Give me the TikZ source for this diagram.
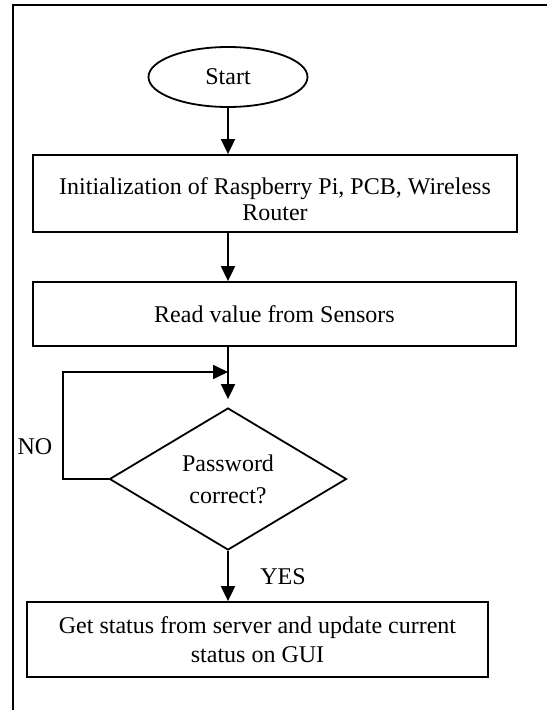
\documentclass[tikz,border=0pt]{standalone}
\usepackage{fontspec}
\setmainfont{Liberation Serif}
\usetikzlibrary{shapes.geometric,arrows.meta}

\begin{document}
\begin{tikzpicture}[x=0.5pt, y=-0.5pt, line width=0.9pt,
		font=\fontsize{12}{13}\selectfont,
		box/.style = {draw, rectangle, align=center, inner sep=0pt},
		oval/.style = {draw, ellipse, inner sep=0pt, minimum width=79.5pt, minimum height=30pt},
		decide/.style = {draw, diamond, align=center, inner sep=0pt, minimum width=118.5pt, minimum height=71pt},
		arr/.style = {-{Triangle[length=7.5pt, width=7pt]}}]
		\useasboundingbox (0,0) rectangle (546,710);
		% Frame
		\draw (13,712) -- (13,5) -- (548,5);
		% Nodes
		\node[oval] (start) at (228,77) {Start};
		\node[box, minimum width=242pt, minimum height=38.5pt] (init) at (275,193.5) {\rule{0pt}{14.5pt}Initialization of Raspberry Pi, PCB, Wireless\\Router};
		\node[box, minimum width=241.5pt, minimum height=32pt] (read) at (274.5,314) {Read value from Sensors};
		\node[decide] (check) at (228,479) {Password\\[3pt]correct?};
		\node[box, minimum width=230.5pt, minimum height=37.5pt] (status) at (257.5,639.5) {Get status from server and update current\\[1.5pt]status on GUI};
		\coordinate (merge) at (228,372);
		\node (no) at (35,447) {NO};
		\node (yes) at (283,577) {YES};
		% Arrows
		\draw[arr] (start.south) -- (start.south |- init.north);	% start-init
		\draw[arr] (init.south -| start) -- (read.north -| start);	% init-read
		\draw[arr, shorten >=4pt] (read.south -| start) -- (check.north);	% read-check
		\draw[arr] (check.west) -- ++(-46,0) |- (merge);	% NO loop
		\draw[arr] (check.south) -- (check.south |- status.north);	% YES
\end{tikzpicture}
\end{document}
